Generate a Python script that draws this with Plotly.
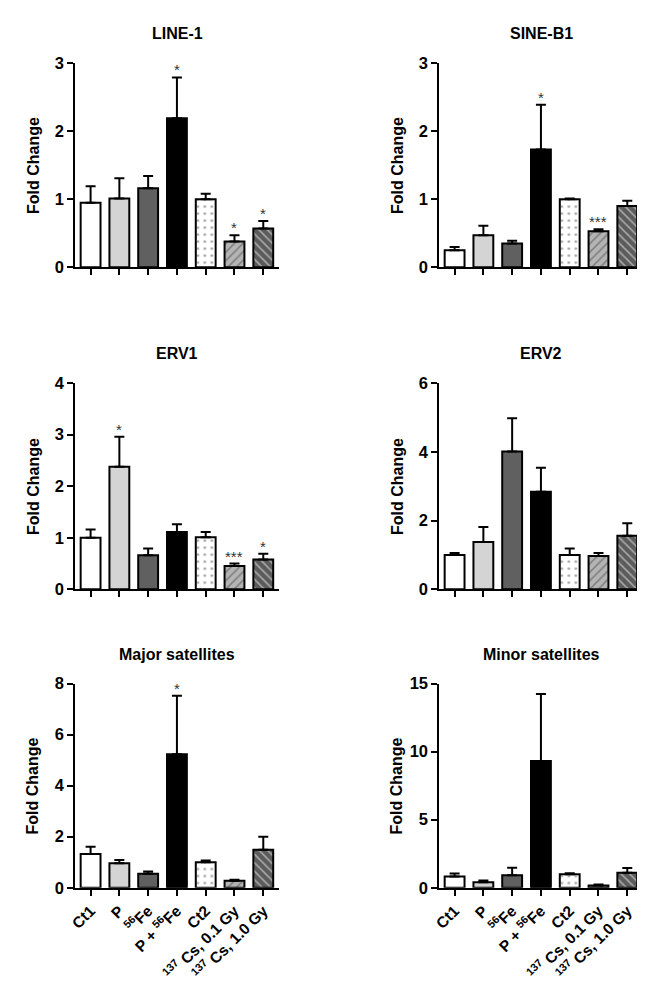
import plotly.graph_objects as go

categories = ["Ct1", "P", "<sup>56</sup>Fe", "P + <sup>56</sup>Fe", "Ct2",
              "<sup>137</sup> Cs, 0.1 Gy", "<sup>137</sup> Cs, 1.0 Gy"]

titles = ["LINE-1", "SINE-B1", "ERV1", "ERV2", "Major satellites", "Minor satellites"]

line1_mean = [0.95, 1.01, 1.16, 2.19, 1.00, 0.38, 0.57]
line1_err = [0.24, 0.30, 0.18, 0.60, 0.08, 0.09, 0.11]
line1_sig = ["", "", "", "*", "", "*", "*"]

sineb1_mean = [0.25, 0.47, 0.35, 1.73, 1.00, 0.53, 0.90]
sineb1_err = [0.05, 0.14, 0.04, 0.66, 0.01, 0.03, 0.08]
sineb1_sig = ["", "", "", "*", "", "***", ""]

erv1_mean = [1.00, 2.38, 0.66, 1.11, 1.01, 0.45, 0.58]
erv1_err = [0.16, 0.58, 0.13, 0.15, 0.10, 0.05, 0.11]
erv1_sig = ["", "*", "", "", "", "***", "*"]

erv2_mean = [1.00, 1.38, 4.01, 2.84, 1.00, 0.97, 1.56]
erv2_err = [0.06, 0.43, 0.97, 0.70, 0.19, 0.09, 0.36]
erv2_sig = ["", "", "", "", "", "", ""]

major_mean = [1.32, 0.96, 0.55, 5.23, 1.00, 0.27, 1.49]
major_err = [0.29, 0.13, 0.09, 2.29, 0.07, 0.04, 0.51]
major_sig = ["", "", "", "*", "", "", ""]

minor_mean = [0.82, 0.41, 0.92, 9.31, 0.99, 0.17, 1.11]
minor_err = [0.22, 0.12, 0.55, 4.92, 0.07, 0.07, 0.34]
minor_sig = ["", "", "", "", "", "", ""]

y_max = [3, 3, 4, 6, 8, 15]
y_dtick = [1, 1, 1, 2, 2, 5]

panels = [
    (line1_mean, line1_err, line1_sig),
    (sineb1_mean, sineb1_err, sineb1_sig),
    (erv1_mean, erv1_err, erv1_sig),
    (erv2_mean, erv2_err, erv2_sig),
    (major_mean, major_err, major_sig),
    (minor_mean, minor_err, minor_sig),
]

W, H = 645, 982
x_dom_px = [(61, 267), (429, 635)]
y_dom_px = [(47, 255), (373, 583), (679, 887)]
title_y_px = [17, 343, 649]
ytitle_x_px = [18, 386]

bar_fill = ["#ffffff", "#d4d4d4", "#606060", "#000000", "#ffffff", "#b4b4b4", "#5c5c5c"]
pat_shape = ["", "", "", "", ".", "/", "\\"]
pat_fg = ["#000000", "#000000", "#000000", "#000000", "#333333", "#333333", "#111111"]
pat_size = [6, 6, 6, 6, 7, 6, 6]
pat_solid = [0.3, 0.3, 0.3, 0.3, 0.12, 0.25, 0.25]

xs = list(range(len(categories)))
fig = go.Figure()
font_fam = "Liberation Sans, Arial, sans-serif"
annotations = []

for i, (mean, err, sig) in enumerate(panels):
    r, c = i // 2, i % 2
    ax = "" if i == 0 else str(i + 1)
    fig.add_trace(go.Bar(
        x=xs, y=mean,
        xaxis="x" + ax, yaxis="y" + ax,
        marker=dict(
            color=bar_fill,
            line=dict(color="black", width=2),
            pattern=dict(shape=pat_shape, fgcolor=pat_fg, bgcolor=bar_fill,
                         size=pat_size, solidity=pat_solid),
        ),
        error_y=dict(type="data", array=err, arrayminus=[0] * len(err), symmetric=False,
                     color="black", thickness=2, width=5),
        showlegend=False, hoverinfo="skip",
    ))
    x0, x1 = x_dom_px[c]
    y0, y1 = y_dom_px[r]
    xdom = [x0 / W, x1 / W]
    ydom = [1 - y1 / H, 1 - y0 / H]
    xaxis = dict(
        domain=xdom, anchor="y" + ax, range=[-0.53, 6.55],
        showline=True, linecolor="black", linewidth=2,
        ticks="outside", ticklen=6, tickwidth=2, tickcolor="black",
        tickvals=xs, ticktext=categories if r == 2 else [""] * len(xs),
        showticklabels=(r == 2), tickangle=-45,
        tickfont=dict(family=font_fam, size=15.5, color="black", weight="bold"),
        showgrid=False, zeroline=False, fixedrange=True,
    )
    yaxis = dict(
        domain=ydom, anchor="x" + ax, range=[0, y_max[i]], dtick=y_dtick[i],
        showline=True, linecolor="black", linewidth=2,
        ticks="outside", ticklen=6, tickwidth=2, tickcolor="black",
        tickfont=dict(family=font_fam, size=16.5, color="black", weight="bold"),
        showgrid=False, zeroline=False, fixedrange=True,
    )
    fig.layout["xaxis" + ax] = xaxis
    fig.layout["yaxis" + ax] = yaxis

    annotations.append(dict(
        text=titles[i], xref="paper", yref="paper",
        x=(x0 + x1) / 2 / W, y=1 - title_y_px[r] / H,
        xanchor="center", yanchor="middle", showarrow=False,
        font=dict(family=font_fam, size=16, color="black", weight="bold"),
    ))
    annotations.append(dict(
        text="Fold Change", xref="paper", yref="paper",
        x=ytitle_x_px[c] / W, y=1 - (y0 + y1) / 2 / H, textangle=-90,
        xanchor="center", yanchor="middle", showarrow=False,
        font=dict(family=font_fam, size=16, color="black", weight="bold"),
    ))
    for k, s in enumerate(sig):
        if s:
            annotations.append(dict(
                text=s, xref="x" + ax, yref="y" + ax,
                x=xs[k], y=mean[k] + err[k], yanchor="bottom", yshift=-3,
                showarrow=False,
                font=dict(family=font_fam, size=15, color="#333333"),
            ))

fig.update_layout(
    width=W, height=H, margin=dict(l=0, r=0, t=0, b=0),
    paper_bgcolor="white", plot_bgcolor="white",
    bargap=0.31, annotations=annotations,
)

fig.write_html("out.html")
